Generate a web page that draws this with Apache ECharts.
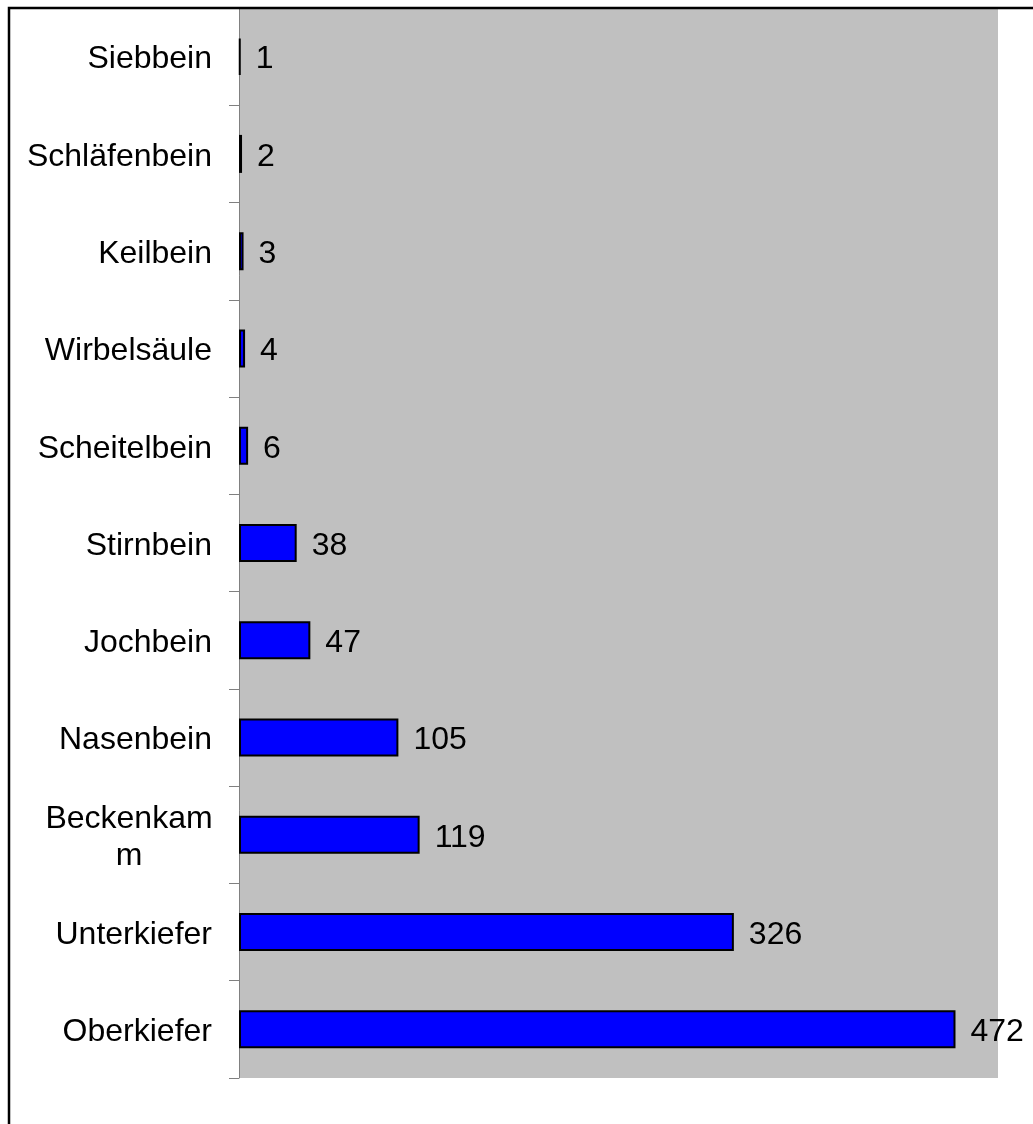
<!DOCTYPE html>
<html>
<head>
<meta charset="utf-8">
<script src="https://cdn.jsdelivr.net/npm/echarts@6/dist/echarts.min.js"></script>
<style>
  html, body { margin: 0; padding: 0; background: #ffffff; }
  #chart { width: 1033px; height: 1124px; }
</style>
</head>
<body>
<div id="chart"></div>
<script>
// Bones, top to bottom, and their counts
const categories = ['Siebbein', 'Schläfenbein', 'Keilbein', 'Wirbelsäule', 'Scheitelbein',
  'Stirnbein', 'Jochbein', 'Nasenbein', 'Beckenkamm', 'Unterkiefer', 'Oberkiefer'];
const counts = [1, 2, 3, 4, 6, 38, 47, 105, 119, 326, 472];

const chart = echarts.init(document.getElementById('chart'), null, { renderer: 'canvas' });

const font = 'Liberation Sans, Arial, Helvetica, sans-serif';

chart.setOption({
  animation: false,
  backgroundColor: '#ffffff',
  graphic: [{
    type: 'rect',
    z: 100,
    shape: { x: 9, y: 8, width: 2000, height: 2000 },
    style: { fill: null, stroke: '#000000', lineWidth: 2.5 }
  }],
  grid: {
    left: 239, top: 8, right: 35, bottom: 46,
    show: true, backgroundColor: '#c0c0c0', borderWidth: 0
  },
  xAxis: {
    type: 'value', min: 0, max: 500,
    show: false, splitLine: { show: false }
  },
  yAxis: {
    type: 'category',
    data: categories,
    inverse: true,
    axisLine: { show: true, lineStyle: { color: '#808080', width: 1 } },
    axisTick: { show: true, length: 10, lineStyle: { color: '#808080', width: 1 } },
    axisLabel: {
      color: '#000000', fontFamily: font, fontSize: 32, margin: 27,
      padding: [6, 0, 0, 0],
      formatter: function (v) {
        // long name wraps inside the label box, lines centred
        if (v === 'Beckenkamm') return '{w|Beckenkam}\n{w|m}';
        return v;
      },
      rich: {
        w: { width: 166, align: 'center', fontSize: 32, fontFamily: font, color: '#000000', lineHeight: 37 }
      }
    }
  },
  series: [{
    type: 'bar',
    data: counts,
    barWidth: 38,
    itemStyle: { color: '#0000ff', borderColor: '#000000', borderWidth: 2 },
    label: {
      show: true, position: 'right', distance: 15, offset: [0, 3],
      color: '#000000', fontFamily: font, fontSize: 32
    }
  }]
});
</script>
</body>
</html>
